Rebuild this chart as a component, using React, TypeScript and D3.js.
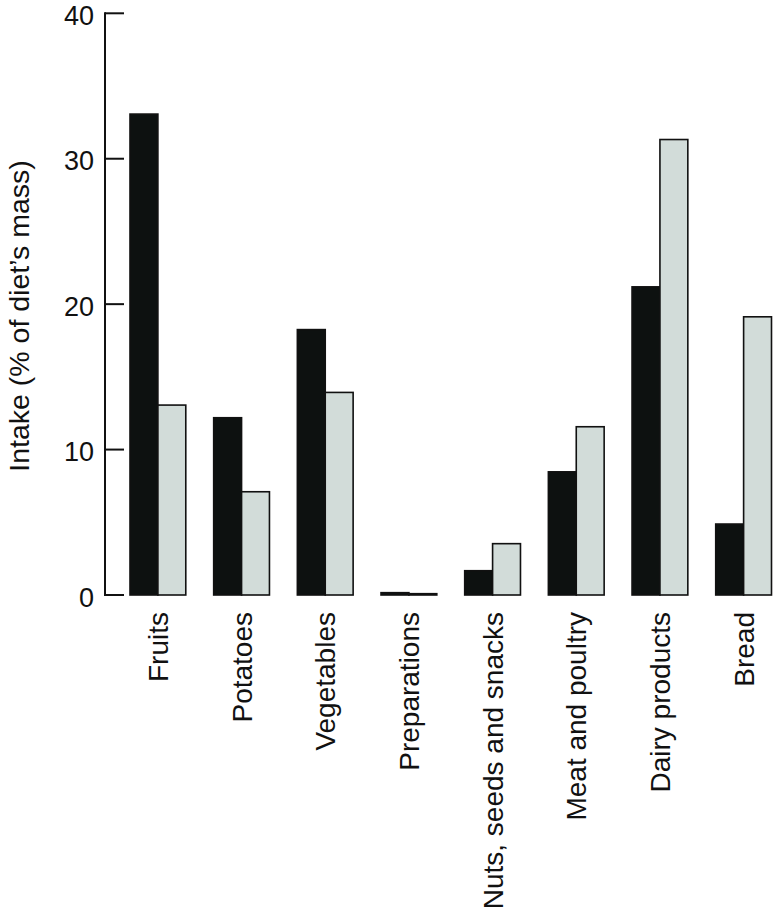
import React from "react";
import * as d3 from "d3";

const categories = [
  "Fruits",
  "Potatoes",
  "Vegetables",
  "Preparations",
  "Nuts, seeds and snacks",
  "Meat and poultry",
  "Dairy products",
  "Bread",
];
const seriesNames = ["A", "B"];
const seriesA = [33.07, 12.19, 18.25, 0.16, 1.67, 8.47, 21.19, 4.88];
const seriesB = [13.06, 7.1, 13.93, 0.09, 3.53, 11.57, 31.32, 19.13];
const yTicks = [0, 10, 20, 30, 40];
const yLabel = "Intake (% of diet\u2019s mass)";
const colors = ["#0d1110", "#d2dcd9"];

const W = 773;
const H = 910;
const FONT = "'Liberation Sans', Arial, Helvetica, sans-serif";

export default function App() {
  const x = d3
    .scaleBand<string>()
    .domain(categories)
    .range([130, 771.5])
    .paddingInner(1 / 3)
    .paddingOuter(0);
  const xs = d3
    .scaleBand<string>()
    .domain(seriesNames)
    .range([0, x.bandwidth()])
    .padding(0);
  const y = d3.scaleLinear().domain([0, 40]).range([595, 13.3]);
  const series = [seriesA, seriesB];
  const axisX = 105;

  return (
    <svg
      width={W}
      height={H}
      style={{ position: "absolute", left: 0, top: 0, background: "#fff" }}
      fontFamily={FONT}
    >
      {categories.map((c, i) => (
        <g key={c}>
          {series.map((s, j) => {
            const v = s[i];
            const x0 = (x(c) as number) + (xs(seriesNames[j]) as number);
            return (
              <rect
                key={j}
                x={x0}
                y={y(v)}
                width={xs.bandwidth()}
                height={y(0) - y(v)}
                fill={colors[j]}
                stroke="#111"
                strokeWidth={1.6}
              />
            );
          })}
        </g>
      ))}
      <line
        x1={axisX}
        x2={axisX}
        y1={y(0)}
        y2={y(40)}
        stroke="#111"
        strokeWidth={2}
        strokeLinecap="square"
      />
      {yTicks.map((t) => (
        <g key={t}>
          <line
            x1={axisX}
            x2={124}
            y1={y(t)}
            y2={y(t)}
            stroke="#111"
            strokeWidth={2}
          />
          <text
            x={94}
            y={y(t) + 2}
            dy="0.36em"
            textAnchor="end"
            fontSize={27}
            fill="#111"
          >
            {t}
          </text>
        </g>
      ))}
      <text
        transform={`translate(29,316) rotate(-90)`}
        textAnchor="middle"
        fontSize={28.5}
        fill="#111"
      >
        {yLabel}
      </text>
      {categories.map((c) => {
        const cx = (x(c) as number) + x.bandwidth() / 2;
        return (
          <text
            key={c}
            transform={`translate(${cx},612) rotate(-90)`}
            textAnchor="end"
            dy="0.36em"
            fontSize={28}
            fill="#111"
          >
            {c}
          </text>
        );
      })}
    </svg>
  );
}
